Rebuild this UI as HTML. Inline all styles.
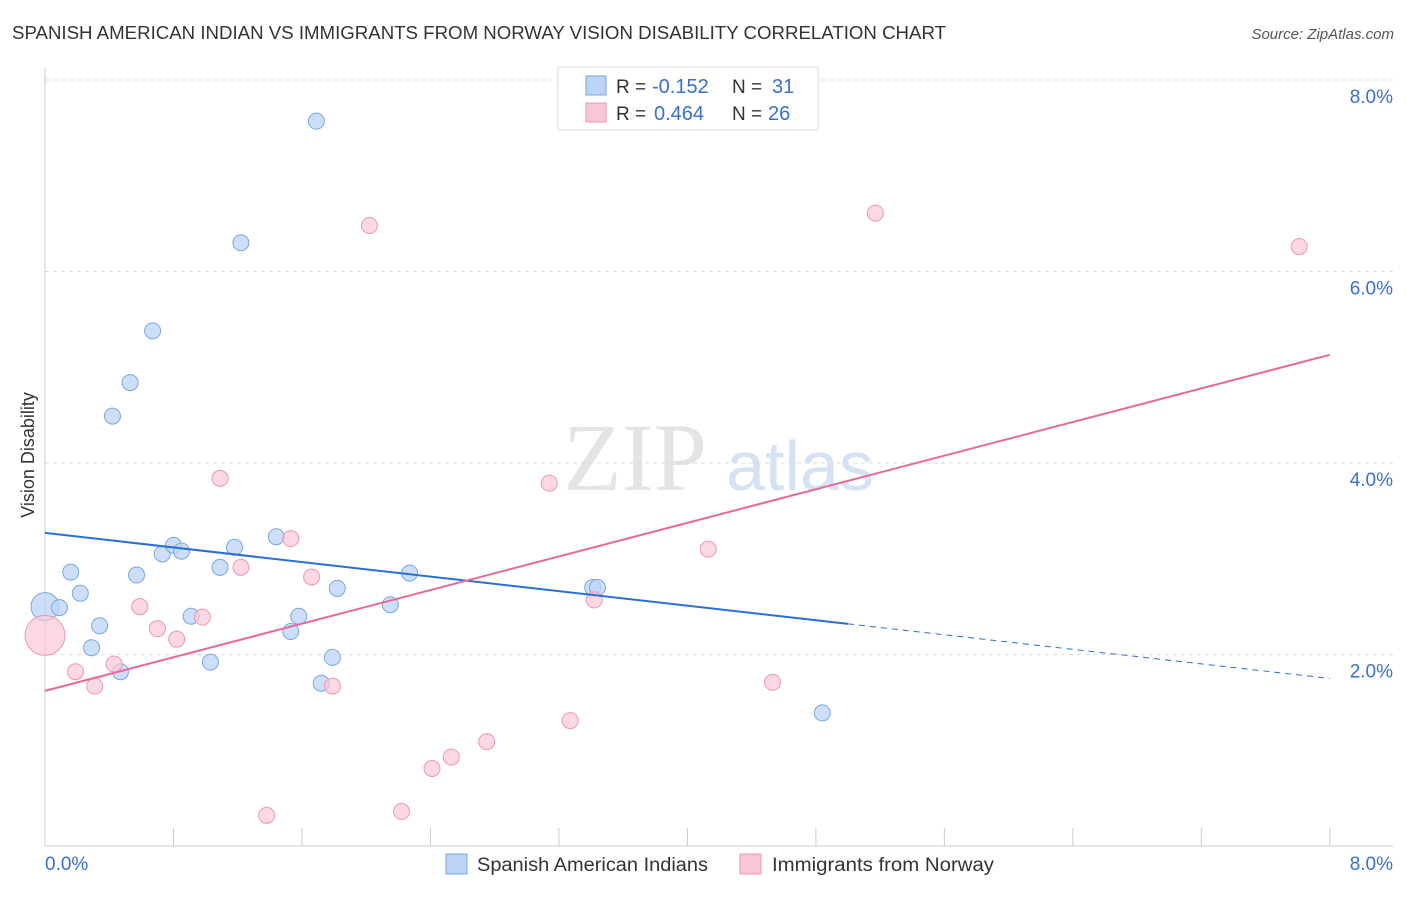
<!DOCTYPE html>
<html><head><meta charset="utf-8"><style>
body{margin:0;background:#fff;font-family:"Liberation Sans",sans-serif}
</style></head><body>
<svg id="c" width="1406" height="892" xmlns="http://www.w3.org/2000/svg">
<text x="12" y="39" font-size="18" fill="#333" textLength="934" lengthAdjust="spacingAndGlyphs">SPANISH AMERICAN INDIAN VS IMMIGRANTS FROM NORWAY VISION DISABILITY CORRELATION CHART</text>
<text x="1394" y="39" font-size="15" fill="#555" font-style="italic" text-anchor="end">Source: ZipAtlas.com</text>
<text x="635" y="490" font-size="96" fill="#e4e4e4" font-family="Liberation Serif" text-anchor="middle">ZIP</text>
<text x="800" y="490" font-size="70" fill="#d4e2f4" text-anchor="middle">atlas</text>
<text x="34" y="455" font-size="18" fill="#333" text-anchor="middle" transform="rotate(-90 34 455)">Vision Disability</text>
<g id="grid"></g><g id="marks"></g>
<g>
<rect x="558" y="67" width="260" height="63" fill="#fff" stroke="#ddd"/>
<rect x="586" y="76" width="20" height="19" fill="#bcd4f5" stroke="#7aa6e0"/>
<rect x="586" y="103" width="20" height="19" fill="#f9c8d6" stroke="#eb98b1"/>
<text x="616" y="93" font-size="19" fill="#333">R =</text>
<text x="652" y="93" font-size="20" fill="#3a6fd0">-0.152</text>
<text x="732" y="93" font-size="19" fill="#333">N =</text>
<text x="772" y="93" font-size="20" fill="#3a6fd0">31</text>
<text x="616" y="120" font-size="19" fill="#333">R =</text>
<text x="654" y="120" font-size="20" fill="#3a6fd0">0.464</text>
<text x="732" y="120" font-size="19" fill="#333">N =</text>
<text x="768" y="120" font-size="20" fill="#3a6fd0">26</text>
</g>
<g>
<rect x="446" y="854" width="21" height="20" fill="#bcd4f5" stroke="#7aa6e0"/>
<text x="477" y="871" font-size="19" fill="#333" textLength="231" lengthAdjust="spacingAndGlyphs">Spanish American Indians</text>
<rect x="740" y="854" width="21" height="20" fill="#f9c8d6" stroke="#eb98b1"/>
<text x="772" y="871" font-size="19" fill="#333" textLength="222" lengthAdjust="spacingAndGlyphs">Immigrants from Norway</text>
</g>
</svg>
<script>
const yTicks=[2,4,6,8];
const yTickLabels=["2.0%","4.0%","6.0%","8.0%"];
const xTicks=[0,0.8,1.6,2.4,3.2,4,4.8,5.6,6.4,7.2,8];
const blueX=[0,0.09,0.16,0.22,0.34,0.29,0.42,0.53,0.67,0.57,0.47,0.73,0.80,0.85,0.91,1.03,1.09,1.18,1.22,1.44,1.53,1.58,1.69,1.72,1.79,1.82,2.15,2.27,3.41,3.44,4.84];
const blueY=[2.50,2.49,2.86,2.64,2.30,2.07,4.49,4.84,5.38,2.83,1.82,3.05,3.14,3.08,2.40,1.92,2.91,3.12,6.30,3.23,2.24,2.40,7.57,1.70,1.97,2.69,2.52,2.85,2.70,2.70,1.39];
const pinkX=[0,0.19,0.31,0.43,0.59,0.70,0.82,0.98,1.09,1.22,1.38,1.53,1.66,1.79,2.02,2.22,2.41,2.53,2.75,3.14,3.27,3.42,4.13,4.53,5.17,7.81];
const pinkY=[2.20,1.82,1.67,1.90,2.50,2.27,2.16,2.39,3.84,2.91,0.32,3.21,2.81,1.67,6.48,0.36,0.81,0.93,1.09,3.79,1.31,2.57,3.10,1.71,6.61,6.26];
const blueTrend=[3.27,1.75], blueSolidEnd=5.0;
const pinkTrend=[1.62,5.13];
const X=v=>45+v*160.6, Y=v=>846-v*95.75;
const NS="http://www.w3.org/2000/svg";
function mk(t,a,p){const e=document.createElementNS(NS,t);for(const k in a)e.setAttribute(k,a[k]);p.appendChild(e);return e;}
const g=document.getElementById('grid'), m=document.getElementById('marks');
yTicks.forEach((t,i)=>{
 const l=mk('line',{x1:45,x2:1393,y1:Y(t),y2:Y(t),stroke:'#ddd','stroke-dasharray':'4,4'},g);
 
 
 const tx=mk('text',{x:1393,y:Y(t)+23,'font-size':19,fill:'#3a6fd0','text-anchor':'end'},g);
 tx.textContent=yTickLabels[i];
 
 
});
const ax=mk('line',{x1:45,x2:45,y1:68,y2:846,stroke:'#ccc'},g);


const bx=mk('line',{x1:45,x2:1393,y1:846,y2:846,stroke:'#ccc'},g);


xTicks.forEach(t=>{
 const l=mk('line',{x1:X(t),x2:X(t),y1:828,y2:846,stroke:'#ccc'},g);
 
 
});
const x0=mk('text',{x:45,y:870,'font-size':19,fill:'#3a6fd0'},g);x0.textContent='0.0%';


const x8=mk('text',{x:1393,y:870,'font-size':19,fill:'#3a6fd0','text-anchor':'end'},g);x8.textContent='8.0%';


blueX.forEach((v,i)=>{
 const c=mk('circle',{cx:X(v),cy:Y(blueY[i]),r:i==0?14:8,fill:'#bcd4f5','fill-opacity':0.75,stroke:'#7aa6e0','stroke-width':1},m);
 
 
});
pinkX.forEach((v,i)=>{
 const c=mk('circle',{cx:X(v),cy:Y(pinkY[i]),r:i==0?20:8,fill:'#f9c8d6','fill-opacity':0.7,stroke:'#eb98b1','stroke-width':1},m);
 
 
});
const bt=v=>blueTrend[0]+(blueTrend[1]-blueTrend[0])*v/8;
const l1=mk('line',{x1:X(0),y1:Y(bt(0)),x2:X(blueSolidEnd),y2:Y(bt(blueSolidEnd)),stroke:'#2a6fd6','stroke-width':2},m);


const l2=mk('line',{x1:X(blueSolidEnd),y1:Y(bt(blueSolidEnd)),x2:X(8),y2:Y(bt(8)),stroke:'#2a6fd6','stroke-width':1,'stroke-dasharray':'6,5'},m);


const l3=mk('line',{x1:X(0),y1:Y(pinkTrend[0]),x2:X(8),y2:Y(pinkTrend[1]),stroke:'#e6699a','stroke-width':2},m);


</script>
</body></html>
